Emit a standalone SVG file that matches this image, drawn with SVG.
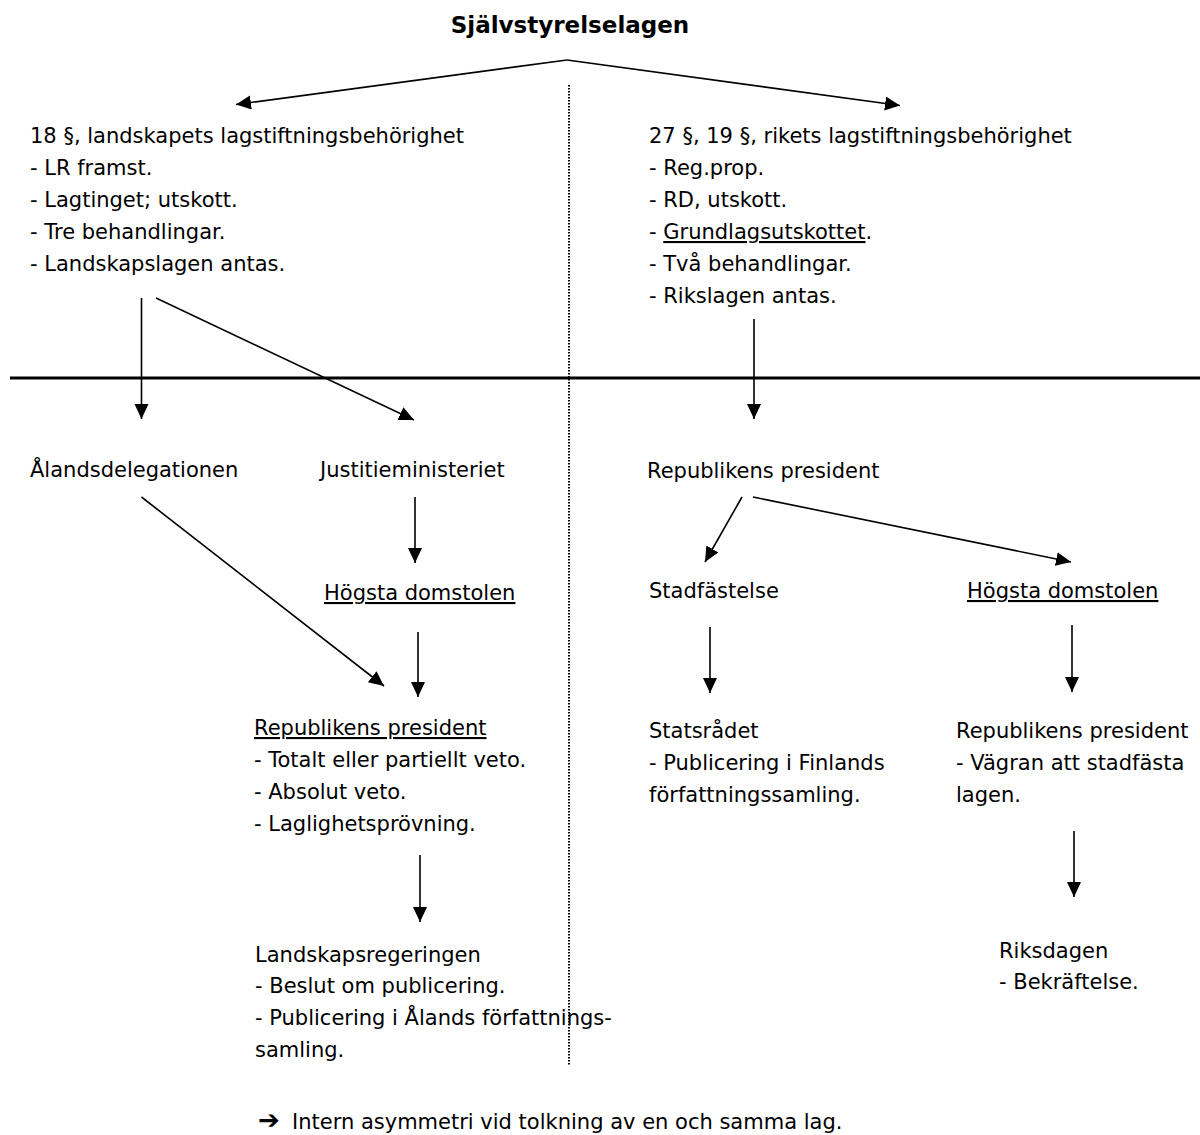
<svg xmlns="http://www.w3.org/2000/svg" width="1200" height="1135" viewBox="0 0 1200 1135">
<defs>
<style>
text{font-family:"DejaVu Sans","Liberation Sans",sans-serif;font-size:21px;fill:#000}
.title{font-weight:bold;font-size:23px}
.u{text-decoration:underline}
.c{stroke:#000;stroke-width:1.6;fill:none}
</style>
<marker id="ah" markerUnits="userSpaceOnUse" markerWidth="16" markerHeight="16" refX="15" refY="7" orient="auto">
<path d="M0,0 L15,7 L0,14 Z" fill="#000"/>
</marker>
</defs>
<rect width="1200" height="1135" fill="#fff"/>

<g id="dividers">
<line x1="10" y1="378" x2="1200" y2="378" stroke="#000" stroke-width="3"/>
<line x1="569" y1="85" x2="569" y2="1066" stroke="#000" stroke-width="2" stroke-dasharray="1.5,1.5"/>
</g>

<g id="connectors">
<path class="c" d="M567,60 L236,104.5" marker-end="url(#ah)"/>
<path class="c" d="M567,60 L900,105.5" marker-end="url(#ah)"/>
<path class="c" d="M141.5,298 L141.5,419" marker-end="url(#ah)"/>
<path class="c" d="M156,298 L414,420" marker-end="url(#ah)"/>
<path class="c" d="M754,319 L754,419" marker-end="url(#ah)"/>
<path class="c" d="M141.5,497 L384,686" marker-end="url(#ah)"/>
<path class="c" d="M415,497 L415,563" marker-end="url(#ah)"/>
<path class="c" d="M418,632 L418,697" marker-end="url(#ah)"/>
<path class="c" d="M742,497 L705,562" marker-end="url(#ah)"/>
<path class="c" d="M753,497 L1071,562" marker-end="url(#ah)"/>
<path class="c" d="M710,627 L710,693" marker-end="url(#ah)"/>
<path class="c" d="M1072,625 L1072,692" marker-end="url(#ah)"/>
<path class="c" d="M420,855 L420,922" marker-end="url(#ah)"/>
<path class="c" d="M1074,831 L1074,897" marker-end="url(#ah)"/>
</g>

<g id="title">
<text class="title" x="570" y="33" text-anchor="middle">Självstyrelselagen</text>
</g>

<g id="landskap">
<text x="30" y="143">18 §, landskapets lagstiftningsbehörighet</text>
<text x="30" y="175">- LR framst.</text>
<text x="30" y="207">- Lagtinget; utskott.</text>
<text x="30" y="239">- Tre behandlingar.</text>
<text x="30" y="271">- Landskapslagen antas.</text>
</g>

<g id="riket">
<text x="649" y="143">27 §, 19 §, rikets lagstiftningsbehörighet</text>
<text x="649" y="175">- Reg.prop.</text>
<text x="649" y="207">- RD, utskott.</text>
<text x="649" y="239">- <tspan class="u">Grundlagsutskottet</tspan>.</text>
<text x="649" y="271">- Två behandlingar.</text>
<text x="649" y="303">- Rikslagen antas.</text>
</g>

<g id="alandsdelegationen">
<text x="30" y="477">Ålandsdelegationen</text>
</g>

<g id="justitieministeriet">
<text x="320" y="477">Justitieministeriet</text>
</g>

<g id="hogsta-domstolen-1">
<text class="u" x="324" y="600">Högsta domstolen</text>
</g>

<g id="president-1">
<text class="u" x="254" y="735">Republikens president</text>
<text x="254" y="767">- Totalt eller partiellt veto.</text>
<text x="254" y="799">- Absolut veto.</text>
<text x="254" y="831">- Laglighetsprövning.</text>
</g>

<g id="landskapsregeringen">
<text x="255" y="962">Landskapsregeringen</text>
<text x="255" y="993">- Beslut om publicering.</text>
<text x="255" y="1025">- Publicering i Ålands författnings-</text>
<text x="255" y="1057">samling.</text>
</g>

<g id="president-2">
<text x="647" y="478">Republikens president</text>
</g>

<g id="stadfastelse">
<text x="649" y="598">Stadfästelse</text>
</g>

<g id="hogsta-domstolen-2">
<text class="u" x="967" y="598">Högsta domstolen</text>
</g>

<g id="statsradet">
<text x="649" y="738">Statsrådet</text>
<text x="649" y="770">- Publicering i Finlands</text>
<text x="649" y="802">författningssamling.</text>
</g>

<g id="president-3">
<text x="956" y="738">Republikens president</text>
<text x="956" y="770">- Vägran att stadfästa</text>
<text x="956" y="802">lagen.</text>
</g>

<g id="riksdagen">
<text x="999" y="958">Riksdagen</text>
<text x="999" y="989">- Bekräftelse.</text>
</g>

<g id="conclusion">
<text x="258" y="1129"><tspan font-weight="bold" font-size="26px">➔</tspan><tspan x="292">Intern asymmetri vid tolkning av en och samma lag.</tspan></text>
</g>
</svg>
